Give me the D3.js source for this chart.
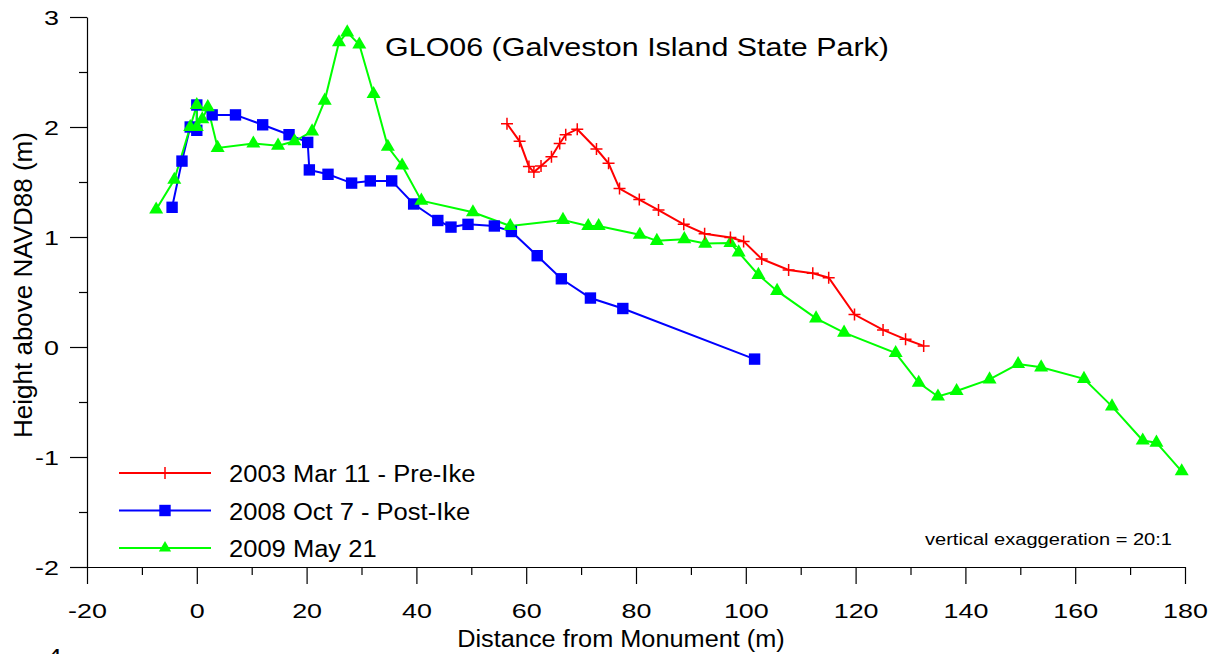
<!DOCTYPE html>
<html lang="en">
  <head>
    <meta charset="UTF-8" />
    <title>GLO06</title>
    <style>
      body { margin: 0; background: #fff; }
      text { font-family: "Liberation Sans", Arial, sans-serif; fill: #000; }
    </style>
    <script src="https://d3js.org/d3.v7.min.js"></script>
  </head>
  <body>
    <svg width="1220" height="654"></svg>
    <script>
      // survey profiles: distance (m), height (m)
      var pre2003 = [
        [56.5, 2.03], [58.8, 1.87], [60.5, 1.64], [61.4, 1.59], [62.7, 1.645],
        [64.6, 1.73], [66.1, 1.85], [67.2, 1.93], [69.3, 1.98], [72.8, 1.8],
        [75.0, 1.67], [77.0, 1.44], [80.6, 1.34], [84.1, 1.245], [88.7, 1.115],
        [92.5, 1.03], [97.2, 0.995], [99.6, 0.96], [102.9, 0.8], [107.8, 0.7],
        [112.2, 0.67], [115.1, 0.63], [119.8, 0.295], [125.0, 0.155],
        [129.1, 0.07], [132.4, 0.01]
      ];
      var post2008 = [
        [-4.5, 1.27], [-2.7, 1.69], [-1.2, 2.0], [0, 1.97], [0, 2.2],
        [2.8, 2.11], [7.05, 2.11], [12.0, 2.02], [16.8, 1.93], [20.2, 1.86],
        [20.5, 1.61], [23.9, 1.57], [28.2, 1.49], [31.6, 1.51], [35.5, 1.51],
        [39.5, 1.3], [43.9, 1.15], [46.3, 1.09], [49.4, 1.115], [54.2, 1.1],
        [57.3, 1.05], [62.0, 0.83], [66.4, 0.62], [71.7, 0.445], [77.6, 0.35],
        [101.6, -0.11]
      ];
      var may2009 = [
        [-7.4, 1.25], [-4.1, 1.52], [-1.2, 2.0], [0, 2.2], [0, 2.0],
        [1.0, 2.07], [2.0, 2.18], [3.8, 1.81], [10.3, 1.85], [14.8, 1.83],
        [17.8, 1.87], [21.0, 1.96], [23.3, 2.24], [25.9, 2.77], [27.4, 2.86],
        [29.6, 2.75], [32.2, 2.3], [34.8, 1.82], [37.4, 1.65], [40.9, 1.33],
        [50.3, 1.225], [57.1, 1.1], [66.7, 1.155], [71.3, 1.1], [73.2, 1.1],
        [80.7, 1.02], [83.8, 0.965], [88.8, 0.98], [92.6, 0.94], [97.2, 0.945],
        [98.7, 0.86], [102.3, 0.655], [105.7, 0.51], [112.8, 0.26],
        [117.9, 0.13], [127.3, -0.055], [131.5, -0.325], [135.0, -0.45],
        [138.4, -0.4], [144.4, -0.295], [149.6, -0.155], [153.8, -0.185],
        [161.6, -0.29], [166.7, -0.54], [172.3, -0.85], [174.8, -0.87],
        [179.4, -1.13]
      ];
      var seriesNames = ["2003 Mar 11 - Pre-Ike", "2008 Oct 7 - Post-Ike", "2009 May 21"];
      var xTicks = [-20, 0, 20, 40, 60, 80, 100, 120, 140, 160, 180];
      var yTicks = [-2, -1, 0, 1, 2, 3];

      var svg = d3.select("svg");
      var x = d3.scaleLinear().domain([-20, 180]).range([87, 1185]);
      var y = d3.scaleLinear().domain([-2, 3]).range([567, 17]);

      // the original text is a bit wide, stretch it horizontally
      function stretch(sel, k) {
        sel.each(function () {
          var w = this.getComputedTextLength();
          d3.select(this).attr("textLength", w * k).attr("lengthAdjust", "spacingAndGlyphs");
        });
      }
      var fmt = (d) => String(d);

      // minor ticks
      svg.append("g")
        .attr("transform", "translate(0,567)")
        .call(d3.axisBottom(x).tickValues(d3.range(-10, 180, 20)).tickSize(8).tickFormat("").tickSizeOuter(0))
        .call((g) => g.select(".domain").remove());
      svg.append("g")
        .attr("transform", "translate(87,0)")
        .call(d3.axisLeft(y).tickValues(d3.range(-1.5, 3, 1)).tickSize(8).tickFormat("").tickSizeOuter(0))
        .call((g) => g.select(".domain").remove());

      var xAxis = svg.append("g")
        .attr("transform", "translate(0,567)")
        .call(d3.axisBottom(x).tickValues(xTicks).tickSize(17).tickPadding(19).tickSizeOuter(0).tickFormat(fmt));
      var yAxis = svg.append("g")
        .attr("transform", "translate(87,0)")
        .call(d3.axisLeft(y).tickValues(yTicks).tickSize(17).tickPadding(11).tickSizeOuter(0).tickFormat(fmt));
      svg.selectAll(".tick text").attr("font-size", 21).attr("font-family", "Liberation Sans, Arial, sans-serif").attr("fill", "#000");
      svg.selectAll(".tick line, .domain").attr("stroke", "#000").attr("stroke-width", 1.2);
      yAxis.selectAll(".tick text").attr("dy", "0.35em");
      stretch(svg.selectAll(".tick text"), 1.28);

      var line = d3.line().x((d) => x(d[0])).y((d) => y(d[1]));

      function drawLine(data, color) {
        svg.append("path")
          .attr("d", line(data))
          .attr("fill", "none")
          .attr("stroke", color)
          .attr("stroke-width", 2);
      }
      drawLine(post2008, "#0000ff");
      drawLine(may2009, "#00ff00");
      drawLine(pre2003, "#ff0000");

      var sq = d3.symbol().type(d3.symbolSquare).size(130);
      var tri = d3.symbol().type(d3.symbolTriangle).size(85);
      var plus = "M-6,0H6M0,-6V6";

      svg.append("g").selectAll("path").data(post2008).join("path")
        .attr("transform", (d) => "translate(" + x(d[0]) + "," + y(d[1]) + ")")
        .attr("d", sq()).attr("fill", "#0000ff");
      svg.append("g").selectAll("path").data(may2009).join("path")
        .attr("transform", (d) => "translate(" + x(d[0]) + "," + y(d[1]) + ")")
        .attr("d", tri()).attr("fill", "#00ff00");
      svg.append("g").selectAll("path").data(pre2003).join("path")
        .attr("transform", (d) => "translate(" + x(d[0]) + "," + y(d[1]) + ")")
        .attr("d", plus).attr("stroke", "#ff0000").attr("stroke-width", 1.5).attr("fill", "none");

      // title and labels
      svg.append("text").attr("x", 637).attr("y", 56).attr("text-anchor", "middle")
        .attr("font-size", 26).text("GLO06 (Galveston Island State Park)")
        .call(stretch, 1.17);
      svg.append("text").attr("x", 621).attr("y", 647).attr("text-anchor", "middle")
        .attr("font-size", 23).text("Distance from Monument (m)")
        .call(stretch, 1.1);
      svg.append("text").attr("transform", "translate(32,285) rotate(-90)").attr("text-anchor", "middle")
        .attr("font-size", 26).text("Height above NAVD88 (m)");
      svg.append("text").attr("x", 1172).attr("y", 545).attr("text-anchor", "end")
        .attr("font-size", 17).text("vertical exaggeration = 20:1")
        .call(stretch, 1.18);
      svg.append("text").attr("x", 62).attr("y", 663).attr("text-anchor", "end")
        .attr("font-size", 21).text("-4")
        .call(stretch, 1.28);

      // legend
      var colors = ["#ff0000", "#0000ff", "#00ff00"];
      var legend = svg.append("g").selectAll("g").data(seriesNames).join("g")
        .attr("transform", (d, i) => "translate(0," + (473 + i * 37.5) + ")");
      legend.append("line").attr("x1", 119).attr("x2", 211)
        .attr("stroke", (d, i) => colors[i]).attr("stroke-width", 2);
      legend.append("path")
        .attr("transform", "translate(165,0)")
        .attr("d", (d, i) => (i === 0 ? "M-5,0H5M0,-6V6" : i === 1 ? sq() : d3.symbol().type(d3.symbolTriangle).size(65)()))
        .attr("fill", (d, i) => (i === 0 ? "none" : colors[i]))
        .attr("stroke", (d, i) => (i === 0 ? colors[0] : "none"))
        .attr("stroke-width", 1.5);
      legend.append("text").attr("x", 229).attr("dy", "0.4em").attr("font-size", 23).text((d) => d)
        .call(stretch, 1.11);
    </script>
  </body>
</html>
